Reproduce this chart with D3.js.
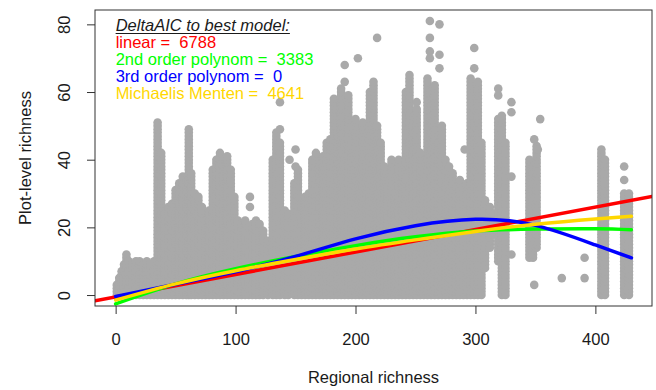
<!DOCTYPE html>
<html>
<head>
<meta charset="utf-8">
<script src="https://cdn.jsdelivr.net/npm/d3@7"></script>
<style>
  html, body { margin: 0; padding: 0; background: #fff; }
  svg { display: block; font-family: 'Liberation Sans', Arial, sans-serif; }
</style>
</head>
<body>
<div id="chart"></div>
<script>
// stacked point columns: regional richness, lowest and highest plot-level richness
const colX  = [1, 3, 5, 7, 9, 11, 14, 17, 20, 23, 26, 29, 32, 35, 38, 41, 44, 47, 50, 53, 56, 59, 61, 63, 66, 69, 72, 75, 78,
  81, 84, 87, 90, 93, 96, 99, 102, 105, 108, 111, 114, 117, 120, 123, 127, 131, 134, 137, 141, 144, 149, 152, 155, 158,
  161, 164, 167, 170, 173, 176, 179, 182, 185, 188, 191, 194, 197, 200, 203, 206, 209, 212, 215, 218, 221, 224, 227,
  230, 233, 236, 239, 242, 245, 248, 251, 254, 257, 260, 263, 266, 269, 272, 275, 278, 281, 284, 287, 290, 293, 296,
  299, 302, 305, 308, 312, 315, 319, 322, 325, 345, 348, 351, 405, 408, 424, 428];
const colLo = [0, 0, 0, 0, 0, 0, 0, 0, 0, 0, 0, 0, 0, 0, 0, 0, 0, 0, 0, 0, 0, 0, 0, 0, 0, 0, 0, 0, 0,
  0, 0, 0, 0, 0, 0, 0, 0, 0, 0, 0, 0, 0, 0, 0, 0, 0, 0, 0, 0, 0, 0, 0, 0, 0,
  0, 0, 0, 0, 0, 0, 0, 0, 0, 0, 0, 0, 0, 0, 0, 0, 0, 0, 0, 0, 0, 0, 0,
  0, 0, 0, 0, 0, 0, 0, 0, 0, 0, 0, 0, 0, 0, 0, 0, 0, 0, 0, 0, 0, 0, 0,
  0, 0, 0, 8, 14, 18, 10, 0, 0, 11, 11, 14, 0, 0, 0, 0];
const colHi = [3, 5, 7, 9, 12, 10, 9, 10, 10, 9, 10, 9, 10, 51, 42, 24, 26, 27, 31, 33, 35, 34, 49, 36, 30, 29, 26, 22, 25,
  37, 40, 42, 38, 41, 37, 29, 22, 21, 22, 20, 21, 22, 21, 19, 16, 40, 48, 45, 25, 24, 33, 37, 27, 29,
  30, 40, 42, 38, 41, 45, 46, 58, 48, 61, 50, 59, 45, 52, 40, 51, 38, 60, 63, 50, 45, 38, 32,
  40, 30, 40, 36, 60, 65, 50, 55, 42, 36, 64, 60, 62, 45, 50, 40, 38, 36, 32, 34, 30, 33, 64,
  55, 63, 45, 28, 26, 24, 52, 53, 45, 40, 38, 44, 43, 40, 30, 30];

// single points away from the columns
const dotX = [112, 112, 137, 137, 145, 150, 150, 191, 191, 202, 218, 251, 262, 262, 262, 262, 270, 270, 270, 291, 299, 299,
  319, 319, 330, 330, 330, 330, 354, 349, 352, 349, 372, 391, 391, 424, 424];
const dotY = [29, 26, 57, 49, 40, 43, 38, 68, 63, 70, 76, 57, 81, 76, 72, 70, 80, 71, 67, 43, 73, 67,
  61, 59, 57, 54, 35, 12, 52, 46, 43, 3, 5, 11, 5, 38, 34];

// fitted curves, read at these regional richness values
const curveX = [0, 50, 100, 150, 200, 250, 300, 350, 400, 430];
const poly2Y = [-2.6, 3.3, 7.8, 11.4, 14.6, 17.2, 18.9, 19.5, 19.6, 19.3];
const poly3Y = [-0.4, 3.2, 6.9, 11.4, 16.6, 20.5, 22.4, 20.6, 14.8, 11.0];
const mmY    = [-1.5, 3.3, 7.2, 10.5, 13.6, 16.3, 18.8, 20.9, 22.5, 23.3];
// linear fit spans the whole plot region
const linearX = [-17.2, 447.2];
const linearY = [-1.7, 29.1];

const xTicks = [0, 100, 200, 300, 400];
const yTicks = [0, 20, 40, 60, 80];

const legendTitle = 'DeltaAIC to best model:';
const legendLabels = ['linear =  6788', '2nd order polynom =  3383', '3rd order polynom =  0', 'Michaelis Menten =  4641'];
const legendColors = ['#ff0000', '#00ff00', '#0000ff', '#ffd700'];

const width = 656;
const height = 390;
const box = { left: 95, right: 652, top: 10, bottom: 306 };
const textColor = '#1a1a1a';
const fontSize = 16.5;

const svg = d3.select('#chart')
  .append('svg')
  .attr('width', width)
  .attr('height', height)
  .attr('viewBox', [0, 0, width, height]);

const x = d3.scaleLinear()
  .domain([-17.2, 447.2])
  .range([box.left, box.right]);

const y = d3.scaleLinear()
  .domain([-3.24, 84.24])
  .range([box.bottom, box.top]);

svg.append('clipPath')
  .attr('id', 'plotclip')
  .append('rect')
  .attr('x', box.left)
  .attr('y', box.top)
  .attr('width', box.right - box.left)
  .attr('height', box.bottom - box.top);

const plot = svg.append('g').attr('clip-path', 'url(#plotclip)');

// expand each column into one point per integer richness value
const points = [];
colX.forEach((cx, i) => {
  for (let v = colLo[i]; v <= colHi[i]; v++) {
    points.push([cx, v]);
  }
});
dotX.forEach((dx, i) => points.push([dx, dotY[i]]));

plot.append('g')
  .selectAll('circle')
  .data(points)
  .join('circle')
  .attr('cx', (d) => x(d[0]))
  .attr('cy', (d) => y(d[1]))
  .attr('r', 4.3)
  .attr('fill', '#a9a9a9');

const line = d3.line()
  .x((d) => x(d[0]))
  .y((d) => y(d[1]))
  .curve(d3.curveNatural);

const fits = [
  { xs: linearX, ys: linearY, color: legendColors[0] },
  { xs: curveX, ys: poly2Y, color: legendColors[1] },
  { xs: curveX, ys: poly3Y, color: legendColors[2] },
  { xs: curveX, ys: mmY, color: legendColors[3] }
];

plot.append('g')
  .selectAll('path')
  .data(fits)
  .join('path')
  .attr('d', (f) => line(f.xs.map((v, i) => [v, f.ys[i]])))
  .attr('fill', 'none')
  .attr('stroke', (f) => f.color)
  .attr('stroke-width', 3.5)
  .attr('stroke-linecap', 'round');

// plot box
svg.append('rect')
  .attr('x', box.left)
  .attr('y', box.top)
  .attr('width', box.right - box.left)
  .attr('height', box.bottom - box.top)
  .attr('fill', 'none')
  .attr('stroke', '#333')
  .attr('stroke-width', 1);

// axes
const xAxis = svg.append('g')
  .attr('transform', `translate(0,${box.bottom})`)
  .call(d3.axisBottom(x).tickValues(xTicks).tickSize(8).tickPadding(19).tickFormat(d3.format('d')));
xAxis.select('.domain').remove();

const yAxis = svg.append('g')
  .attr('transform', `translate(${box.left},0)`)
  .call(d3.axisLeft(y).tickValues(yTicks).tickSize(8).tickFormat(d3.format('d')));
yAxis.select('.domain').remove();
yAxis.selectAll('.tick text')
  .attr('x', 0)
  .attr('dy', 0)
  .attr('text-anchor', 'middle')
  .attr('transform', 'translate(-25,0) rotate(-90)');

svg.selectAll('.tick line').attr('stroke', '#333');
svg.selectAll('.tick text')
  .attr('fill', textColor)
  .style('font-size', `${fontSize}px`)
  .style('font-family', "'Liberation Sans', Arial, sans-serif");

// axis titles
svg.append('text')
  .attr('x', (box.left + box.right) / 2)
  .attr('y', 383)
  .attr('text-anchor', 'middle')
  .attr('fill', textColor)
  .style('font-size', `${fontSize}px`)
  .text('Regional richness');

svg.append('text')
  .attr('transform', `translate(31,${(box.top + box.bottom) / 2}) rotate(-90)`)
  .attr('text-anchor', 'middle')
  .attr('fill', textColor)
  .style('font-size', `${fontSize}px`)
  .text('Plot-level richness');

// legend with delta AIC values
const legend = svg.append('g').attr('transform', `translate(${x(0)},0)`);
const title = legend.append('text')
  .attr('x', 0)
  .attr('y', 31)
  .attr('fill', textColor)
  .style('font-size', `${fontSize}px`)
  .style('font-style', 'italic')
  .text(legendTitle);
const titleWidth = title.node().getComputedTextLength();
legend.append('line')
  .attr('x1', 0)
  .attr('x2', titleWidth)
  .attr('y1', 33.5)
  .attr('y2', 33.5)
  .attr('stroke', textColor)
  .attr('stroke-width', 1);

legend.selectAll('.entry')
  .data(legendLabels)
  .join('text')
  .attr('class', 'entry')
  .attr('x', 0)
  .attr('y', (d, i) => 48 + i * 16.9)
  .attr('fill', (d, i) => legendColors[i])
  .style('font-size', `${fontSize}px`)
  .attr('xml:space', 'preserve')
  .text((d) => d);
</script>
</body>
</html>
